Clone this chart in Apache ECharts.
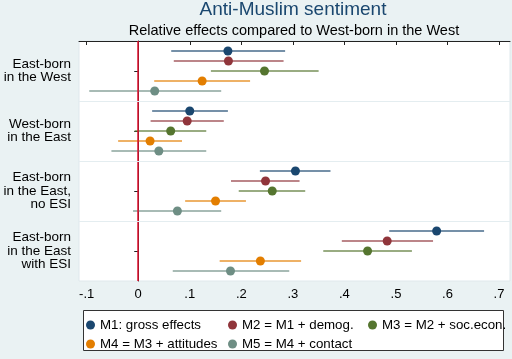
<!DOCTYPE html>
<html>
<head>
<meta charset="utf-8">
<script src="https://cdn.jsdelivr.net/npm/echarts@6/dist/echarts.min.js"></script>
<style>
html, body { margin: 0; padding: 0; background: #eaf2f3; }
#chart { width: 512px; height: 359px; }
</style>
</head>
<body>
<div id="chart"></div>
<script>
// groups top to bottom
var groups = ['East-born\nin the West', 'West-born\nin the East', 'East-born\nin the East,\nno ESI', 'East-born\nin the East\nwith ESI'];
var models = ['M1: gross effects', 'M2 = M1 + demog.', 'M3 = M2 + soc.econ.', 'M4 = M3 + attitudes', 'M5 = M4 + contact'];
var colors = ['#1a476f', '#90353b', '#55752f', '#e37e00', '#6e8e84'];
var xTicks = [-0.1, 0, 0.1, 0.2, 0.3, 0.4, 0.5, 0.6, 0.7];

// point estimates, one value per group
var m1_est = [0.174, 0.100, 0.305, 0.579];
var m2_est = [0.175, 0.095, 0.247, 0.483];
var m3_est = [0.245, 0.063, 0.260, 0.445];
var m4_est = [0.124, 0.023, 0.150, 0.237];
var m5_est = [0.032, 0.040, 0.076, 0.179];
// confidence interval bounds
var m1_lo = [0.064, 0.027, 0.236, 0.487];
var m1_hi = [0.285, 0.174, 0.373, 0.671];
var m2_lo = [0.069, 0.024, 0.180, 0.395];
var m2_hi = [0.282, 0.166, 0.313, 0.572];
var m3_lo = [0.141, -0.007, 0.195, 0.359];
var m3_hi = [0.350, 0.132, 0.324, 0.531];
var m4_lo = [0.031, -0.039, 0.091, 0.158];
var m4_hi = [0.217, 0.085, 0.209, 0.316];
var m5_lo = [-0.095, -0.052, -0.010, 0.067];
var m5_hi = [0.161, 0.132, 0.161, 0.293];

var est = [m1_est, m2_est, m3_est, m4_est, m5_est];
var lo = [m1_lo, m2_lo, m3_lo, m4_lo, m5_lo];
var hi = [m1_hi, m2_hi, m3_hi, m4_hi, m5_hi];

var font = "'Liberation Sans', Arial, Helvetica, sans-serif";

function rowPos(g, m){
	return g * 6 + m + 1;
}

var series = [];
var legends = [];
var legendSpots = [[86, 318], [228, 318], [368, 318], [86, 337], [228, 337]];

for (var m = 0; m < models.length; m++) {
	var ciData = [];
	var ptData = [];
	for (var g = 0; g < groups.length; g++) {
		ciData.push([lo[m][g], hi[m][g], rowPos(g, m)]);
		ptData.push([est[m][g], rowPos(g, m)]);
	}
	(function(col){
		series.push({
			name: 'ci' + m,
			type: 'custom',
			data: ciData,
			encode: { x: [0, 1], y: 2 },
			renderItem: function(params, api){
				var s = api.coord([api.value(0), api.value(2)]);
				var e = api.coord([api.value(1), api.value(2)]);
				return {
					type: 'line',
					shape: { x1: s[0], y1: s[1], x2: e[0], y2: e[1] },
					style: { stroke: col, lineWidth: 1.4, opacity: 0.8 }
				};
			},
			z: 2
		});
	})(colors[m]);
	series.push({
		name: models[m],
		type: 'scatter',
		data: ptData,
		symbol: 'circle',
		symbolSize: 9,
		itemStyle: { color: colors[m], opacity: 1 },
		z: 3
	});
	legends.push({
		data: [models[m]],
		left: legendSpots[m][0],
		top: legendSpots[m][1],
		icon: 'circle',
		itemWidth: 9,
		itemHeight: 9,
		itemGap: 0,
		padding: 0,
		textStyle: { fontFamily: font, fontSize: 13.3, color: '#000', lineHeight: 14 }
	});
}

// red reference line at zero and group separators
series.push({
	name: 'refs',
	type: 'line',
	data: [],
	markLine: {
		silent: true,
		symbol: 'none',
		label: { show: false },
		data: [
			{ xAxis: 0, lineStyle: { color: '#e0102f', width: 1.5, type: 'solid' } },
			{ yAxis: 6, lineStyle: { color: '#e4edf0', width: 1.2, type: 'solid' } },
			{ yAxis: 12, lineStyle: { color: '#e4edf0', width: 1.2, type: 'solid' } },
			{ yAxis: 18, lineStyle: { color: '#e4edf0', width: 1.2, type: 'solid' } }
		]
	},
	z: 1
});

var chart = echarts.init(document.getElementById('chart'));
var option = {
	backgroundColor: '#eaf2f3',
	animation: false,
	title: [
		{
			text: 'Anti-Muslim sentiment',
			left: 293, top: 0, textAlign: 'center', padding: 0,
			textStyle: { fontFamily: font, fontSize: 19, fontWeight: 'normal', color: '#1a476f', lineHeight: 19 }
		},
		{
			text: 'Relative effects compared to West-born in the West',
			left: 294, top: 23, textAlign: 'center', padding: 0,
			textStyle: { fontFamily: font, fontSize: 14.5, fontWeight: 'normal', color: '#000', lineHeight: 16 }
		}
	],
	legend: legends,
	graphic: [{
		type: 'rect',
		shape: { x: 83.5, y: 310.5, width: 420, height: 40 },
		style: { fill: '#fff', stroke: '#333', lineWidth: 1 },
		z: -1
	}],
	grid: {
		left: 79, right: 2, top: 41, bottom: 78,
		show: true,
		backgroundColor: '#fff',
		borderColor: '#dfe8ec',
		borderWidth: 1
	},
	xAxis: {
		type: 'value',
		min: -0.1149,
		max: 0.7213,
		axisLine: { show: true, lineStyle: { color: '#222', width: 1 } },
		axisTick: { show: true, length: 4, customValues: xTicks, lineStyle: { color: '#222' } },
		axisLabel: {
			customValues: xTicks,
			margin: 7,
			fontFamily: font, fontSize: 13, color: '#000',
			formatter: function(v){
				if (Math.abs(v) < 1e-9) return '0';
				var s = Math.abs(v).toFixed(1).replace(/^0/, '');
				return (v < 0 ? '-' : '') + s;
			}
		},
		splitLine: { show: false }
	},
	yAxis: {
		type: 'value',
		min: 0,
		max: 24,
		inverse: true,
		axisLine: { show: true, lineStyle: { color: '#222', width: 1 } },
		axisTick: { show: true, length: 4, customValues: [3, 9, 15, 21], lineStyle: { color: '#222' } },
		axisLabel: {
			customValues: [3, 9, 15, 21],
			margin: 8,
			align: 'right',
			fontFamily: font, fontSize: 13.5, lineHeight: 13.5, color: '#000',
			formatter: function(v){
				return groups[Math.round((v - 3) / 6)];
			}
		},
		splitLine: { show: false }
	},
	series: series
};
chart.setOption(option);
window.addEventListener("resize", function(){
	chart.resize();
});
</script>
</body>
</html>
